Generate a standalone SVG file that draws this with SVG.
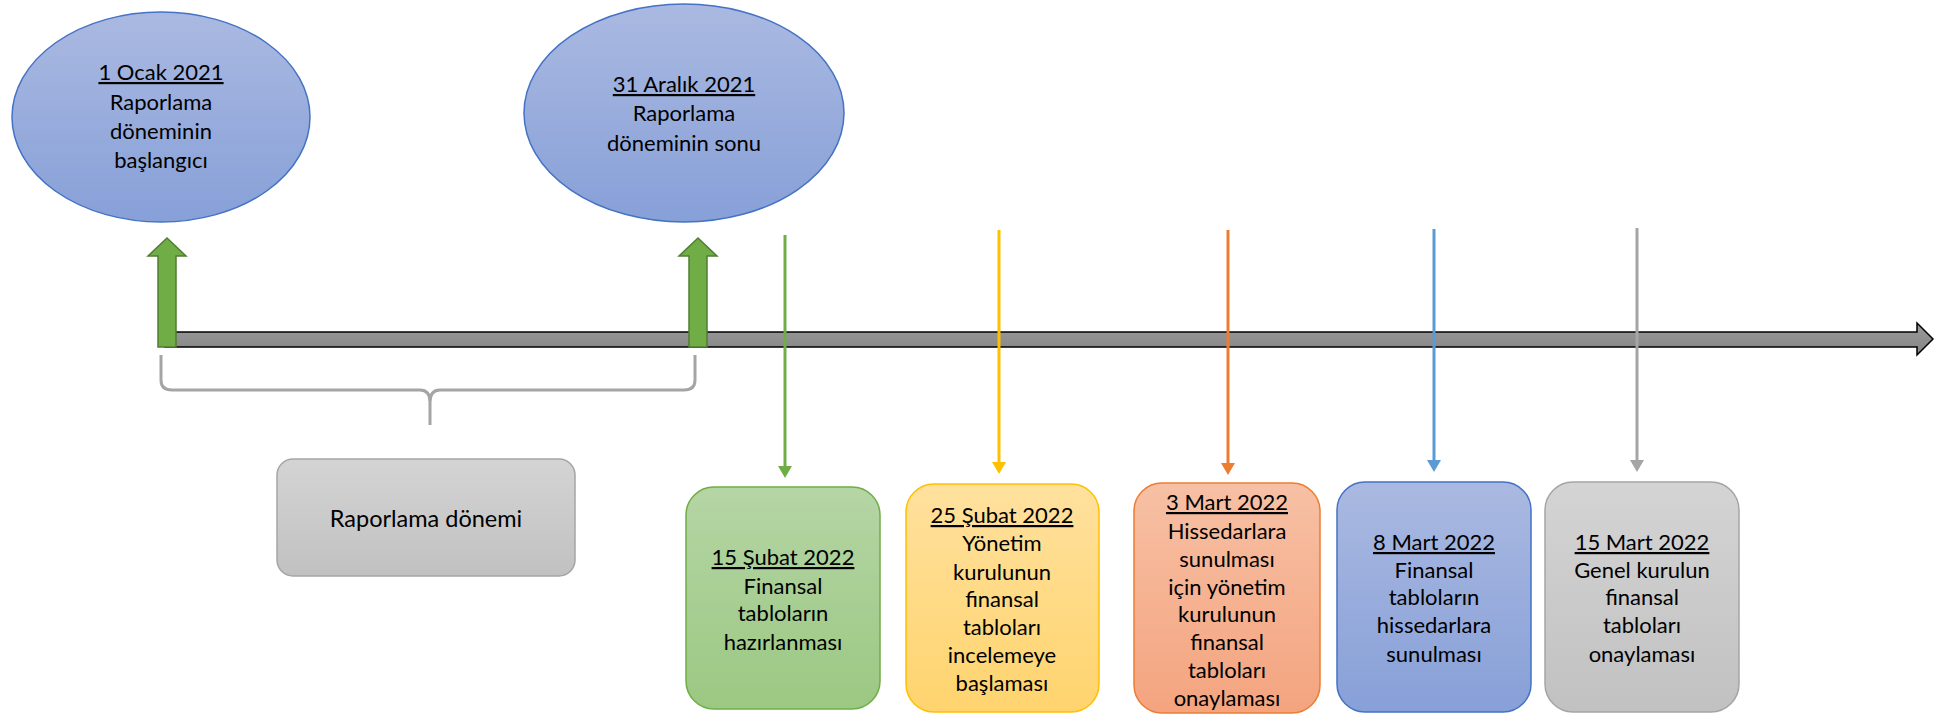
<svg xmlns="http://www.w3.org/2000/svg" width="1959" height="715" viewBox="0 0 1959 715">
<defs>
<linearGradient id="gBlue" x1="0" y1="0" x2="0" y2="1"><stop offset="0" stop-color="#AAB9E1"/><stop offset="1" stop-color="#87A0D8"/></linearGradient>
<linearGradient id="gGreen" x1="0" y1="0" x2="0" y2="1"><stop offset="0" stop-color="#B5D5A5"/><stop offset="1" stop-color="#9BC882"/></linearGradient>
<linearGradient id="gYellow" x1="0" y1="0" x2="0" y2="1"><stop offset="0" stop-color="#FFE19E"/><stop offset="1" stop-color="#FFD46E"/></linearGradient>
<linearGradient id="gOrange" x1="0" y1="0" x2="0" y2="1"><stop offset="0" stop-color="#F7C0A4"/><stop offset="1" stop-color="#F4A47F"/></linearGradient>
<linearGradient id="gGray" x1="0" y1="0" x2="0" y2="1"><stop offset="0" stop-color="#D4D4D4"/><stop offset="1" stop-color="#C1C1C1"/></linearGradient>
<linearGradient id="gBar" x1="0" y1="0" x2="0" y2="1"><stop offset="0" stop-color="#9A9A9A"/><stop offset="1" stop-color="#858585"/></linearGradient>
<marker id="mGreen" markerUnits="userSpaceOnUse" markerWidth="12" markerHeight="14" viewBox="0 0 12 14" refX="1" refY="7" orient="auto"><path d="M0,0 L12,7 L0,14 z" fill="#70AD47"/></marker>
<marker id="mYellow" markerUnits="userSpaceOnUse" markerWidth="12" markerHeight="14" viewBox="0 0 12 14" refX="1" refY="7" orient="auto"><path d="M0,0 L12,7 L0,14 z" fill="#FFC000"/></marker>
<marker id="mOrange" markerUnits="userSpaceOnUse" markerWidth="12" markerHeight="14" viewBox="0 0 12 14" refX="1" refY="7" orient="auto"><path d="M0,0 L12,7 L0,14 z" fill="#ED7D31"/></marker>
<marker id="mBlue" markerUnits="userSpaceOnUse" markerWidth="12" markerHeight="14" viewBox="0 0 12 14" refX="1" refY="7" orient="auto"><path d="M0,0 L12,7 L0,14 z" fill="#5B9BD5"/></marker>
<marker id="mGray" markerUnits="userSpaceOnUse" markerWidth="12" markerHeight="14" viewBox="0 0 12 14" refX="1" refY="7" orient="auto"><path d="M0,0 L12,7 L0,14 z" fill="#A5A5A5"/></marker>
</defs>
<style>
text{font-family:Lato,"Open Sans","DejaVu Sans",sans-serif;font-size:22px;fill:#000;text-anchor:middle}
.u{text-decoration:underline}
.conn{fill:none;stroke-width:3}
.up{fill:#70AD47;stroke:#507E32;stroke-width:1.5}
</style>
<rect width="1959" height="715" fill="#FFFFFF"/>

<g id="timeline">
<path d="M165,332 L1917,332 L1917,323 L1933,339 L1917,355 L1917,347 L165,347 z" fill="url(#gBar)" stroke="#000" stroke-width="1.5"/>
<polygon class="up" points="167,238 186,256 176,256 176,347 158,347 158,256 148,256"/>
<polygon class="up" points="698,238 717,256 707,256 707,347 689,347 689,256 679,256"/>
</g>

<g id="brace">
<path d="M161,355 L161,380 Q161,390 172,390 L420,390 Q430,390 430,402 L430,425 M430,402 Q430,390 440,390 L684,390 Q695,390 695,380 L695,355" fill="none" stroke="#A5A5A5" stroke-width="3"/>
</g>

<g id="connectors">
<line class="conn" x1="785" y1="235" x2="785" y2="467" stroke="#70AD47" marker-end="url(#mGreen)"/>
<line class="conn" x1="999" y1="230" x2="999" y2="463" stroke="#FFC000" marker-end="url(#mYellow)"/>
<line class="conn" x1="1228" y1="230" x2="1228" y2="464" stroke="#ED7D31" marker-end="url(#mOrange)"/>
<line class="conn" x1="1434" y1="229" x2="1434" y2="461" stroke="#5B9BD5" marker-end="url(#mBlue)"/>
<line class="conn" x1="1637" y1="228" x2="1637" y2="461" stroke="#A5A5A5" marker-end="url(#mGray)"/>
</g>

<g id="node-start">
<ellipse cx="161" cy="117" rx="149" ry="105" fill="url(#gBlue)" stroke="#4472C4" stroke-width="1.5"/>
<text x="161" y="80"><tspan class="u">1 Ocak 2021</tspan></text>
<text x="161" y="110">Raporlama</text>
<text x="161" y="139">döneminin</text>
<text x="161" y="168">başlangıcı</text>
</g>

<g id="node-end">
<ellipse cx="684" cy="113" rx="160" ry="109" fill="url(#gBlue)" stroke="#4472C4" stroke-width="1.5"/>
<text x="684" y="92"><tspan class="u">31 Aralık 2021</tspan></text>
<text x="684" y="121">Raporlama</text>
<text x="684" y="151">döneminin sonu</text>
</g>

<g id="node-period">
<rect x="277" y="459" width="298" height="117" rx="16" fill="url(#gGray)" stroke="#A5A5A5" stroke-width="1.5"/>
<text x="426" y="527" style="font-size:23.5px">Raporlama dönemi</text>
</g>

<g id="node-15subat">
<rect x="686" y="487" width="194" height="222" rx="28" fill="url(#gGreen)" stroke="#70AD47" stroke-width="1.5"/>
<text x="783" y="565"><tspan class="u">15 Şubat 2022</tspan></text>
<text x="783" y="594">Finansal</text>
<text x="783" y="621">tabloların</text>
<text x="783" y="650">hazırlanması</text>
</g>

<g id="node-25subat">
<rect x="906" y="484" width="193" height="228" rx="28" fill="url(#gYellow)" stroke="#FFC000" stroke-width="1.5"/>
<text x="1002" y="523"><tspan class="u">25 Şubat 2022</tspan></text>
<text x="1002" y="551">Yönetim</text>
<text x="1002" y="580">kurulunun</text>
<text x="1002" y="607">finansal</text>
<text x="1002" y="635">tabloları</text>
<text x="1002" y="663">incelemeye</text>
<text x="1002" y="691">başlaması</text>
</g>

<g id="node-3mart">
<rect x="1134" y="483" width="186" height="230" rx="28" fill="url(#gOrange)" stroke="#ED7D31" stroke-width="1.5"/>
<text x="1227" y="510"><tspan class="u">3 Mart 2022</tspan></text>
<text x="1227" y="539">Hissedarlara</text>
<text x="1227" y="567">sunulması</text>
<text x="1227" y="595">için yönetim</text>
<text x="1227" y="622">kurulunun</text>
<text x="1227" y="650">finansal</text>
<text x="1227" y="678">tabloları</text>
<text x="1227" y="706">onaylaması</text>
</g>

<g id="node-8mart">
<rect x="1337" y="482" width="194" height="230" rx="28" fill="url(#gBlue)" stroke="#4472C4" stroke-width="1.5"/>
<text x="1434" y="550"><tspan class="u">8 Mart 2022</tspan></text>
<text x="1434" y="578">Finansal</text>
<text x="1434" y="605">tabloların</text>
<text x="1434" y="633">hissedarlara</text>
<text x="1434" y="662">sunulması</text>
</g>

<g id="node-15mart">
<rect x="1545" y="482" width="194" height="230" rx="28" fill="url(#gGray)" stroke="#A5A5A5" stroke-width="1.5"/>
<text x="1642" y="550"><tspan class="u">15 Mart 2022</tspan></text>
<text x="1642" y="578">Genel kurulun</text>
<text x="1642" y="605">finansal</text>
<text x="1642" y="633">tabloları</text>
<text x="1642" y="662">onaylaması</text>
</g>
</svg>
